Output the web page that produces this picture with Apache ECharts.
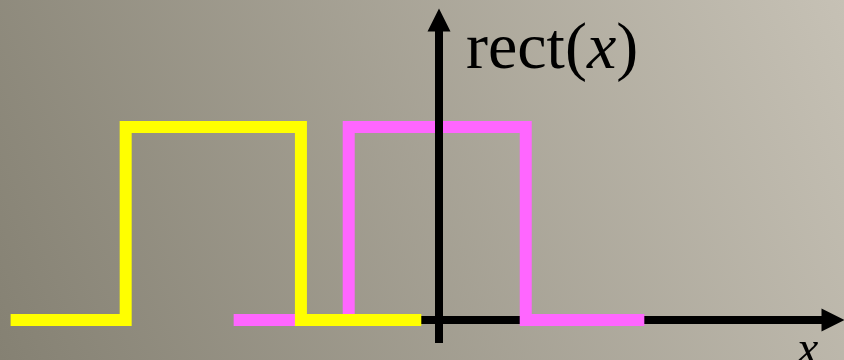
<!DOCTYPE html>
<html>
<head>
<meta charset="utf-8">
<script src="https://cdn.jsdelivr.net/npm/echarts@6/dist/echarts.min.js"></script>
<style>
  html, body { margin: 0; padding: 0; }
  #chart { width: 844px; height: 360px; }
</style>
</head>
<body>
<div id="chart"></div>
<script>
// rect(x), shifted copy in yellow
const pinkX = [-1.16, -0.51, -0.51, 0.49, 0.49, 1.16];
const pinkY = [0, 0, 1, 1, 0, 0];
const yellowX = [-2.42, -1.77, -1.77, -0.78, -0.78, -0.10];
const yellowY = [0, 0, 1, 1, 0, 0];
// drawn axes (arrow at the end)
const xAxisFrom = [-0.102, 0];
const xAxisTo = [2.226, 0];
const yAxisFrom = [0, -0.119];
const yAxisTo = [0, 1.554];

const serif = "'Liberation Serif', 'Times New Roman', serif";

function pairs(xs, ys) {
  return xs.map((x, i) => [x, ys[i]]);
}

function arrowLine(from, to, z) {
  return {
    type: "line",
    data: [],
    z: z,
    silent: true,
    markLine: {
      z: z,
      silent: true,
      animation: false,
      symbol: ["none", "triangle"],
      symbolSize: 23,
      label: { show: false },
      emphasis: { disabled: true },
      lineStyle: { color: "#000", width: 8, type: "solid", opacity: 1 },
      itemStyle: { color: "#000" },
      data: [[{ coord: from }, { coord: to }]],
    },
  };
}

const chart = echarts.init(document.getElementById("chart"));
chart.setOption({
  animation: false,
  backgroundColor: new echarts.graphic.LinearGradient(0, 1, 1, 0, [
    { offset: 0, color: "#858173" },
    { offset: 1, color: "#c6c1b5" },
  ]),
  title: [
    {
      text: "{n|rect(}{i|x}{n|)}",
      left: 461,
      top: 13,
      textStyle: {
        rich: {
          n: { fontFamily: serif, fontSize: 66, fontWeight: "normal", color: "#000" },
          i: { fontFamily: serif, fontSize: 66, fontWeight: "normal", fontStyle: "italic", color: "#000" },
        },
      },
    },
    {
      text: "x",
      left: 792,
      top: 322,
      textStyle: {
        fontFamily: serif,
        fontSize: 48,
        fontStyle: "italic",
        fontWeight: "normal",
        color: "#000",
      },
    },
  ],
  grid: { left: 0, right: 0, top: 0, bottom: 0 },
  xAxis: { type: "value", min: -2.48, max: 2.288, show: false },
  yAxis: { type: "value", min: -0.207, max: 1.658, show: false },
  series: [
    arrowLine(xAxisFrom, xAxisTo, 1),
    {
      type: "line",
      data: pairs(pinkX, pinkY),
      showSymbol: false,
      z: 2,
      lineStyle: { color: "#ff66ff", width: 12, join: "miter", cap: "butt" },
    },
    {
      type: "line",
      data: pairs(yellowX, yellowY),
      showSymbol: false,
      z: 2,
      lineStyle: { color: "#ffff00", width: 12, join: "miter", cap: "butt" },
    },
    arrowLine(yAxisFrom, yAxisTo, 3),
  ],
});
</script>
</body>
</html>
